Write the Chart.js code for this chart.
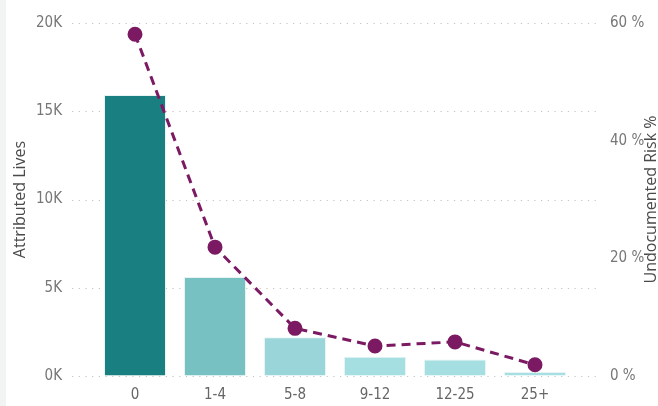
<!DOCTYPE html>
<html>
<head>
<meta charset="utf-8">
<script src="https://cdn.jsdelivr.net/npm/chart.js@4"></script>
<style>
  html, body { margin: 0; padding: 0; background: #fff; }
  #wrap { position: relative; width: 658px; height: 406px; }
  #strip { position: absolute; left: 0; top: 0; width: 6px; height: 406px; background: #f2f4f4; z-index: 0; }
  #comboChart { position: relative; z-index: 1; }
</style>
</head>
<body>
<div id="wrap">
  <div id="strip"></div>
  <canvas id="comboChart" width="658" height="406"></canvas>
</div>
<script>
// categories and values
const ageBands = ['0', '1-4', '5-8', '9-12', '12-25', '25+'];
const attributedLives = [15920, 5610, 2190, 1090, 940, 230];
const undocumentedRisk = [58.1, 21.9, 8.1, 5.1, 5.8, 1.9];
const barColours = ['#1a7f80', '#78c1c3', '#9ad6d9', '#a5dfe1', '#a5dfe1', '#a5dfe1'];

const tickFont = { family: "'Liberation Sans Narrow', 'DejaVu Sans Condensed', 'Open Sans', sans-serif", size: 15 };
const titleFont = { family: "'Segoe UI', 'Open Sans', sans-serif", size: 16 };

// dotted gridlines that run past the plot on both sides, like Power BI draws them
const dottedGrid = {
    id: 'dottedGrid',
    beforeDatasetsDraw(chart) {
        const ctx = chart.ctx;
        const scale = chart.scales.yLives;
        const area = chart.chartArea;
        ctx.save();
        ctx.strokeStyle = '#c4c4c4';
        ctx.lineWidth = 1.2;
        ctx.setLineDash([1.2, 5.5]);
        scale.ticks.forEach(function (t) {
            const y = Math.round(scale.getPixelForValue(t.value)) + 0.5;
            ctx.beginPath();
            ctx.moveTo(area.left - 23, y);
            ctx.lineTo(area.right + 23, y);
            ctx.stroke();
        });
        ctx.restore();
    }
};

// right axis title reads bottom-to-top in the reference, Chart.js would turn it the other way
const rightTitle = {
    id: 'rightTitle',
    afterDraw(chart) {
        const ctx = chart.ctx;
        const area = chart.chartArea;
        ctx.save();
        ctx.translate(chart.width - 7, (area.top + area.bottom) / 2);
        ctx.rotate(-Math.PI / 2);
        ctx.font = titleFont.size + 'px ' + titleFont.family;
        ctx.fillStyle = '#4a4a4a';
        ctx.textAlign = 'center';
        ctx.textBaseline = 'middle';
        ctx.fillText('Undocumented Risk %', 0, 0);
        ctx.restore();
    }
};

const chartConfig = {
    data: {
        labels: ageBands,
        datasets: [
            {
                type: 'line',
                label: 'Undocumented Risk %',
                data: undocumentedRisk,
                yAxisID: 'yRisk',
                borderColor: '#7b1a63',
                backgroundColor: '#7b1a63',
                borderWidth: 3,
                borderDash: [9, 6],
                pointRadius: 6,
                pointHoverRadius: 6,
                tension: 0,
                order: 0
            },
            {
                type: 'bar',
                label: 'Attributed Lives',
                data: attributedLives,
                yAxisID: 'yLives',
                backgroundColor: barColours,
                borderColor: '#e8f4f4',
                borderWidth: 1,
                barPercentage: 0.775,
                categoryPercentage: 1,
                order: 1
            }
        ]
    },
    plugins: [dottedGrid, rightTitle],
    options: {
        responsive: false,
        animation: false,
        layout: { padding: { top: 23, bottom: 0, left: 0, right: 0 } },
        plugins: {
            legend: { display: false },
            tooltip: { enabled: false }
        },
        scales: {
            x: {
                grid: { display: false },
                border: { display: false },
                ticks: { color: '#666', font: tickFont, padding: 2 },
                afterFit: function (scale) { scale.height = 30; }
            },
            yLives: {
                position: 'left',
                min: 0,
                max: 20000,
                ticks: {
                    stepSize: 5000,
                    color: '#777',
                    font: tickFont,
                    padding: 10,
                    callback: function (v) { return (v / 1000) + 'K'; }
                },
                grid: {
                    display: true,
                    color: 'rgba(0,0,0,0)',
                    tickLength: 23
                },
                border: { display: false },
                title: {
                    display: true,
                    text: 'Attributed Lives',
                    color: '#4a4a4a',
                    font: titleFont,
                    padding: { top: 11, bottom: 0 }
                },
                afterFit: function (scale) { scale.width = 95; }
            },
            yRisk: {
                position: 'right',
                min: 0,
                max: 60,
                ticks: {
                    stepSize: 20,
                    color: '#777',
                    font: tickFont,
                    padding: 12,
                    callback: function (v) { return v + ' %'; }
                },
                grid: {
                    drawOnChartArea: false,
                    color: 'rgba(0,0,0,0)',
                    tickLength: 23
                },
                border: { display: false },
                title: { display: false },
                afterFit: function (scale) { scale.width = 83; }
            }
        }
    }
};

new Chart(document.getElementById('comboChart'), chartConfig);
</script>
</body>
</html>
